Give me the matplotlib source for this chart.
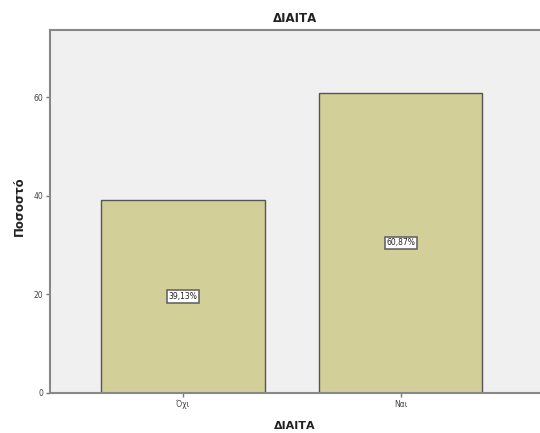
import matplotlib
matplotlib.use('Agg')
import matplotlib.pyplot as plt

# Data
categories = ['Όχι', 'Ναι']
percentages = [39.13, 60.87]
value_labels = ['39,13%', '60,87%']
y_ticks = [0, 20, 40, 60]

fig = plt.figure(figsize=(5.4, 4.33), dpi=100)
ax = fig.add_axes([50 / 540, 40 / 433, 490 / 540, 363 / 433])
ax.set_facecolor('#f0f0f0')

x = list(range(len(categories)))
ax.bar(x, percentages, width=0.75, color='#d3cf98', edgecolor='#555555', linewidth=1.0, zorder=2)

for xi, val, lab in zip(x, percentages, value_labels):
    ax.text(xi, val / 2, lab, ha='center', va='center', fontsize=5.5, color='#222222',
            bbox=dict(boxstyle='square,pad=0.2', facecolor='white', edgecolor='#666666', linewidth=1.2),
            zorder=3)

ax.set_xlim(-0.61, 1.64)
ax.set_ylim(0, 73.6)
ax.set_xticks(x)
ax.set_xticklabels(categories, fontsize=5.5, color='#444444')
ax.set_yticks(y_ticks)
ax.set_yticklabels([str(t) for t in y_ticks], fontsize=5.5, color='#444444')
ax.tick_params(axis='both', direction='out', length=3, width=1, color='#777777', pad=2)

for side in ['left', 'top', 'bottom']:
    ax.spines[side].set_color('#888888')
    ax.spines[side].set_linewidth(1.5)
ax.spines['right'].set_visible(False)

ax.set_title('ΔΙΑΙΤΑ', fontsize=8.5, fontweight='bold', color='#222222', pad=6)
ax.set_xlabel('ΔΙΑΙΤΑ', fontsize=8, fontweight='bold', color='#222222', labelpad=8)
ax.set_ylabel('Ποσοστό', fontsize=8.5, fontweight='bold', color='#222222', labelpad=4)
ax.yaxis.set_label_coords(-0.05, 0.515)

fig.savefig('out.png', dpi=100)
